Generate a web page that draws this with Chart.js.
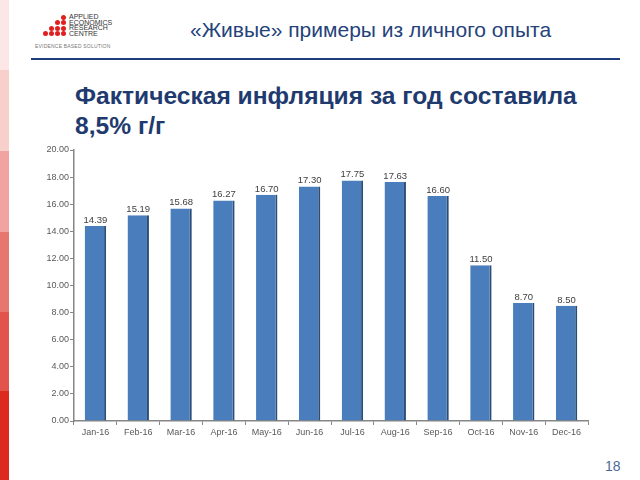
<!DOCTYPE html>
<html>
<head>
<meta charset="utf-8">
<script src="https://cdn.jsdelivr.net/npm/chart.js@4"></script>
<style>
html,body{margin:0;padding:0;background:#fff;}
body{width:640px;height:480px;position:relative;overflow:hidden;font-family:"Liberation Sans",Arial,sans-serif;}
.strip{position:absolute;left:0;width:9px;}
#hdr{position:absolute;left:190px;top:18px;font-size:21px;color:#25427a;white-space:nowrap;}
#line{position:absolute;left:31px;top:58px;width:589px;height:2px;background:#1f3d7a;}
#ttl{position:absolute;left:75px;top:81px;font-size:24.6px;font-weight:bold;color:#1f3a6e;line-height:30px;white-space:nowrap;}
#pg{position:absolute;left:605px;top:458px;font-size:14px;color:#4a6a9a;}
#logoTxt{position:absolute;left:69px;top:14px;font-size:7px;line-height:5.6px;color:#333;white-space:nowrap;}
#tag{position:absolute;left:35px;top:43px;font-size:5px;color:#777;white-space:nowrap;letter-spacing:0.2px;}
.dot{position:absolute;width:5px;height:5px;border-radius:50%;background:#e02020;}
#wrap{position:absolute;left:30px;top:140px;width:600px;height:300px;}
</style>
</head>
<body>
<div class="strip" style="top:0;height:70px;background:#fde6e6"></div>
<div class="strip" style="top:70px;height:81px;background:#f7cfcb"></div>
<div class="strip" style="top:151px;height:81px;background:#f0a3a0"></div>
<div class="strip" style="top:232px;height:80px;background:#e87670"></div>
<div class="strip" style="top:312px;height:79px;background:#e2544b"></div>
<div class="strip" style="top:391px;height:89px;background:#dc2a1e"></div>
<div id="dots"></div>
<div id="logoTxt">APPLIED<br>ECONOMICS<br>RESEARCH<br>CENTRE</div>
<div id="tag">EVIDENCE BASED SOLUTION</div>
<div id="hdr">«Живые» примеры из личного опыта</div>
<div id="line"></div>
<div id="ttl">Фактическая инфляция за год составила<br>8,5% г/г</div>
<div id="pg">18</div>
<div id="wrap"><canvas id="c" width="600" height="300"></canvas></div>
<script>
const categories = ["Jan-16","Feb-16","Mar-16","Apr-16","May-16","Jun-16","Jul-16","Aug-16","Sep-16","Oct-16","Nov-16","Dec-16"];
const inflation = [14.39,15.19,15.68,16.27,16.70,17.30,17.75,17.63,16.60,11.50,8.70,8.50];
const yTicks = [0,2,4,6,8,10,12,14,16,18,20];

// logo dots
(function(){
  const rows=[[61],[55,61],[49,55,61],[43,49,55,61]];
  const ys=[15,20,26,31];
  const d=document.getElementById('dots');
  rows.forEach((r,i)=>r.forEach(x=>{const e=document.createElement('div');e.className='dot';e.style.left=x+'px';e.style.top=ys[i]+'px';d.appendChild(e);}));
})();

const valueLabels = {
  id:'valueLabels',
  afterDatasetsDraw(chart){
    const ctx=chart.ctx;
    const meta=chart.getDatasetMeta(0);
    ctx.save();
    ctx.font='9.5px "Liberation Sans", Arial, sans-serif';
    ctx.fillStyle='#404040';
    ctx.textAlign='center';
    ctx.textBaseline='bottom';
    meta.data.forEach((bar,i)=>{
      ctx.fillText(inflation[i].toFixed(2), bar.x, bar.y-1);
    });
    ctx.restore();
  }
};

new Chart(document.getElementById('c'),{
  type:'bar',
  data:{labels:categories,datasets:[{data:inflation,backgroundColor:'#4a7dbb',borderColor:'#2e4d73',borderWidth:{top:0,right:2,bottom:0,left:0},borderSkipped:false,barPercentage:0.5,categoryPercentage:1.0}]},
  options:{
    responsive:false,animation:false,
    layout:{padding:{top:10,right:42,left:0,bottom:0}},
    plugins:{legend:{display:false},tooltip:{enabled:false},title:{display:false}},
    scales:{
      x:{
        grid:{display:true,drawOnChartArea:false,drawTicks:true,tickLength:4,color:'#868686',offset:true},
        border:{display:true,color:'#868686',width:1.5},
        ticks:{color:'#595959',font:{size:9,family:'"Liberation Sans", Arial, sans-serif'},padding:2,maxRotation:0,autoSkip:false},
        afterFit(s){s.height=19;}
      },
      y:{
        min:0,max:20,
        afterBuildTicks(s){s.ticks=yTicks.map(v=>({value:v}));},
        grid:{display:true,drawOnChartArea:false,drawTicks:true,tickLength:4,color:'#868686'},
        border:{display:true,color:'#868686',width:1.5},
        ticks:{color:'#595959',font:{size:9,family:'"Liberation Sans", Arial, sans-serif'},padding:1,callback:v=>v.toFixed(2)},
        afterFit(s){s.width=44;}
      }
    }
  },
  plugins:[valueLabels]
});
</script>
</body>
</html>
